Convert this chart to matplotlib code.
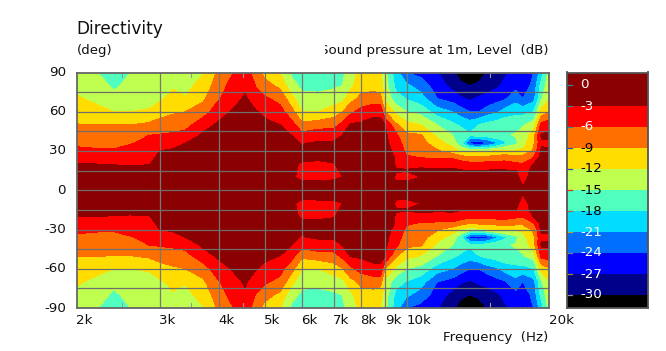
import numpy as np
import matplotlib
matplotlib.use("Agg")
import matplotlib.pyplot as plt
from matplotlib.transforms import Bbox

W, H = 666, 351
angles_upper = [0, 10, 15, 20, 25, 30, 36, 42, 50, 60, 70, 80, 90]
freqs = [2000, 2250, 2400, 2600, 2850, 3000, 3200, 3400, 3700, 3950, 4200, 4550, 4800, 5000, 5400, 5700,
         6000, 6500, 7000, 7300, 7600, 8000, 8500, 8800, 9000, 9500, 10000, 10700, 11600, 12500, 13000,
         13600, 14200, 14800, 15500, 16060, 17000, 17600, 18550, 19260, 20000]
db_upper = [
 [-.5,-1.5,-2.2,-2.9,-4.2,-5.4,-6.5,-7.6,-8.9,-10.4,-11.6,-12.8,-13.5],
 [-.5,-1.5,-2.2,-3,-4.4,-5.6,-7,-7.9,-8.9,-11.3,-13,-14,-15.3],
 [-.5,-1.5,-2.3,-3.1,-4.5,-5.6,-7,-8,-9,-12,-14,-15.6,-16.5],
 [-.5,-1.4,-2.3,-3.2,-4.2,-5.1,-6.2,-7.5,-9,-12,-13.2,-14,-15],
 [-.5,-1.4,-2.2,-3.1,-3.6,-4.2,-5.1,-6,-8.4,-11.7,-13,-13.5,-14],
 [-.3,-.9,-1.4,-1.9,-2.5,-3,-4.4,-5.8,-7.8,-10.2,-12.5,-13.3,-13.8],
 [-.3,-.8,-1.2,-1.7,-2.2,-2.7,-3.7,-5.5,-7.4,-9.4,-11,-12.4,-13.5],
 [-.3,-.7,-1,-1.4,-1.9,-2.4,-3,-5,-7,-9,-11.8,-12.8,-13],
 [-.2,-.5,-.7,-1,-1.2,-1.5,-2,-2.5,-4.3,-7.4,-9.6,-11,-12.2],
 [-.2,-.4,-.6,-.8,-1,-1.2,-1.5,-1.9,-2.7,-4.7,-6.7,-7.9,-9],
 [-.1,-.3,-.4,-.5,-.6,-.8,-1,-1.3,-2,-3.1,-4.5,-5.6,-6.7],
 [0,-.2,-.25,-.3,-.4,-.5,-.7,-.9,-1.2,-1.9,-2.6,-3.5,-4.5],
 [-.1,-.3,-.4,-.5,-.6,-.7,-.9,-1.2,-1.9,-2.8,-4.6,-6.2,-7.5],
 [-.1,-.4,-.5,-.6,-.7,-.9,-1.2,-1.8,-2.4,-3.6,-5.5,-7.8,-10],
 [-.2,-.6,-.8,-1,-1.2,-1.5,-2,-2.4,-3,-5,-6.9,-9.8,-12],
 [-.8,-2.6,-2.6,-2.6,-2.4,-2.4,-2.7,-3,-4.8,-7.8,-10.9,-14,-15.5],
 [-1.5,-3.6,-3.4,-3.2,-2.7,-2.8,-3.1,-5,-8.2,-12,-14.2,-15.6,-16.5],
 [-1.5,-3.5,-3.4,-3.3,-2.7,-2.4,-2.7,-4,-7.4,-12,-14,-16,-16.5],
 [-1.5,-3.4,-3.3,-3.1,-2.6,-2.3,-2.6,-4.1,-7.1,-10.5,-13.5,-15.5,-16.2],
 [-1,-3,-2.8,-2.6,-2,-1.9,-2.1,-3,-5.2,-9.2,-13,-15,-15.8],
 [-.4,-.8,-.9,-1,-1.1,-1.2,-1.5,-1.9,-2.7,-6.8,-10,-12.8,-13.5],
 [-.3,-.6,-.7,-.8,-.9,-1,-1.2,-1.5,-2.5,-4.8,-8.3,-10,-11],
 [-.3,-.6,-.7,-.8,-.9,-1,-1.1,-1.4,-2.1,-3.7,-7.7,-10,-11],
 [-.3,-.6,-.7,-.9,-1,-1.1,-1.3,-1.6,-2.2,-3.6,-7.9,-10.8,-11.8],
 [-.3,-.7,-1,-1.5,-1.7,-2,-2.2,-2.5,-3,-9,-12.8,-13.6,-14.2],
 [-1.5,-3.5,-2.8,-3.3,-3.2,-3.8,-4.6,-5.4,-8.5,-12.9,-16.8,-19,-19.8],
 [-1.5,-3.6,-2.9,-3.4,-5.6,-6.7,-7.5,-8.4,-11.1,-15,-18.2,-20.5,-24],
 [-1.4,-3,-2.7,-3.4,-6.1,-6.9,-7.8,-8.7,-12,-16,-19.7,-22.3,-25],
 [-.7,-1.8,-2.6,-4,-6.4,-8.6,-10.8,-12.6,-15,-19.5,-24,-25.5,-26.8],
 [-.7,-1.8,-2.5,-3.9,-6.5,-10.5,-13.2,-15,-17.3,-21,-25.3,-28,-29.5],
 [-.8,-1.8,-2.8,-4.5,-7.5,-12.5,-17,-16.5,-18.4,-22.5,-26.5,-29.5,-31],
 [-1,-2,-3,-5,-8.5,-13.5,-25,-17.5,-19.5,-24,-27.5,-30,-32],
 [-.9,-1.9,-2.9,-5.1,-8.2,-13,-26,-17,-18,-24,-26.5,-29.2,-32],
 [-.9,-1.9,-2.8,-4.9,-8.2,-12.5,-24.7,-16.5,-17,-22.5,-26.3,-28,-29.8],
 [-.9,-1.9,-2.8,-4.8,-7.8,-11.5,-21.5,-15.5,-16.3,-21.5,-25,-27.5,-28.5],
 [-.9,-1.9,-2.8,-4.6,-7.5,-11,-19,-15.3,-15.6,-20,-24.5,-26.5,-27.5],
 [-.9,-2,-2.9,-5.4,-7.9,-11.5,-15.7,-14.8,-15.6,-19,-22,-25,-26],
 [-2.4,-4.3,-4.5,-5.8,-8,-11.3,-13.3,-14.2,-15.2,-19,-24,-26,-27.5],
 [-1,-1.5,-2,-2.8,-6,-8.5,-9.5,-10.2,-13.5,-18,-22,-23,-24],
 [-.8,-1,-1.2,-1.4,-1.7,-2.4,-3.5,-2.5,-5,-10.8,-15.4,-17,-19.5],
 [-.6,-.9,-1.1,-1.4,-1.8,-2.7,-3.4,-2.6,-4.2,-9.4,-12.2,-13.2,-14],
]
levels = [-100, -30, -27, -24, -21, -18, -15, -12, -9, -6, -3, 10]
colors = ['#000000', '#00008B', '#0000FF', '#006FFF', '#00DDFF', '#50FFBF',
          '#BFFF4F', '#FFDD00', '#FF6F00', '#FF0000', '#8B0000']
x_ticks = [2000, 3000, 4000, 5000, 6000, 7000, 8000, 9000, 10000, 20000]
x_tick_labels = ['2k', '3k', '4k', '5k', '6k', '7k', '8k', '9k', '10k', '20k']
x_minor = [2500, 3500, 4500, 15000]
y_ticks = [90, 60, 30, 0, -30, -60, -90]
y_grid = [75, 60, 45, 30, 15, 0, -15, -30, -45, -60, -75]
cb_ticks = [0, -3, -6, -9, -12, -15, -18, -21, -24, -27, -30]
cb_text = ['white', 'white', 'white', 'black', 'black', 'black', 'black', 'white', 'white', 'white', 'white']
cb_tickc = ['#2a8f9a', '#2a8f9a', '#2a8f9a', '#2050c0', '#2050c0', '#e03020', '#b06040', '#c0a020', '#808080', '#a09020', '#909090']

plt.rcParams['font.family'] = 'DejaVu Sans'
fig = plt.figure(figsize=(W / 100, H / 100), dpi=100, facecolor='white')
def box(l, t, r, b):
    return [l / W, 1 - b / H, (r - l) / W, (b - t) / H]
def px(x, y, s, **k):
    return fig.text(x / W, 1 - y / H, s, color=k.pop('color', '#111111'), **k)

ax = fig.add_axes(box(76.5, 72.5, 549, 308))
db = np.array(db_upper).T
ang = np.array(angles_upper, float)
full_ang = np.concatenate([-ang[:0:-1], ang])
full_db = np.vstack([db[:0:-1], db])
ax.contourf(freqs, full_ang, full_db, levels=levels, colors=colors, antialiased=False)
ax.set_xscale('log')
ax.set_xlim(2000, 20000)
ax.set_ylim(-90, 90)
ax.minorticks_off()
ax.set_xticks([]); ax.set_yticks([])
ax.xaxis.set_tick_params(which='both', length=0)
for f in x_ticks[1:-1]:
    ax.axvline(f, color='#777777', lw=0.9)
for a in y_grid:
    ax.axhline(a, color='#6e6e6e', lw=0.9)
for f in x_minor:
    ax.plot([f, f], [90, 86.5], color='#999999', lw=0.8)
    ax.plot([f, f], [-90, -86.5], color='#999999', lw=0.8)
for s in ax.spines.values():
    s.set_color('#666666'); s.set_linewidth(1.3)

fs = 9.6
for f, lab in zip(x_ticks, x_tick_labels):
    xp = 76.5 + np.log10(f / 2000) * 472.5
    px(xp - 0.5, 320.5, lab, fontsize=fs, ha='left', va='center')
for a in y_ticks:
    yp = 72.5 + (90 - a) / 180 * 235.5
    px(66, yp, str(a), fontsize=fs, ha='right', va='center')
px(76.5, 28.5, 'Directivity', fontsize=12.2, ha='left', va='center')
px(76.5, 50.5, '(deg)', fontsize=fs, ha='left', va='center')
t = px(548, 50.5, 'Sound pressure at 1m, Level  (dB)', fontsize=fs, ha='right', va='center')
t.set_clip_box(Bbox([[325, 0], [W, H]]))
t.set_clip_on(True)
px(548, 338, 'Frequency  (Hz)', fontsize=fs, ha='right', va='center')

cax = fig.add_axes(box(566.5, 72.5, 648, 308))
cb_vals = np.array(levels, float)
cb_vals[0] = -31.9; cb_vals[-1] = 1.8
cax.pcolormesh([0, 1], cb_vals, np.arange(len(colors)).reshape(-1, 1),
               cmap=matplotlib.colors.ListedColormap(colors), shading='flat')
cax.set_ylim(-31.9, 1.8); cax.set_xlim(0, 1)
cax.set_xticks([]); cax.set_yticks([])
for s in cax.spines.values():
    s.set_color('#555555'); s.set_linewidth(1.3)
for v, c, tc in zip(cb_ticks, cb_text, cb_tickc):
    cax.plot([0, 0.065], [v, v], color=tc, lw=0.9)
    yp = 85 + (-v) / 3 * 21
    px(580, yp, str(v), fontsize=fs, ha='left', va='center', color=c)
fig.savefig('out.png', dpi=100)
